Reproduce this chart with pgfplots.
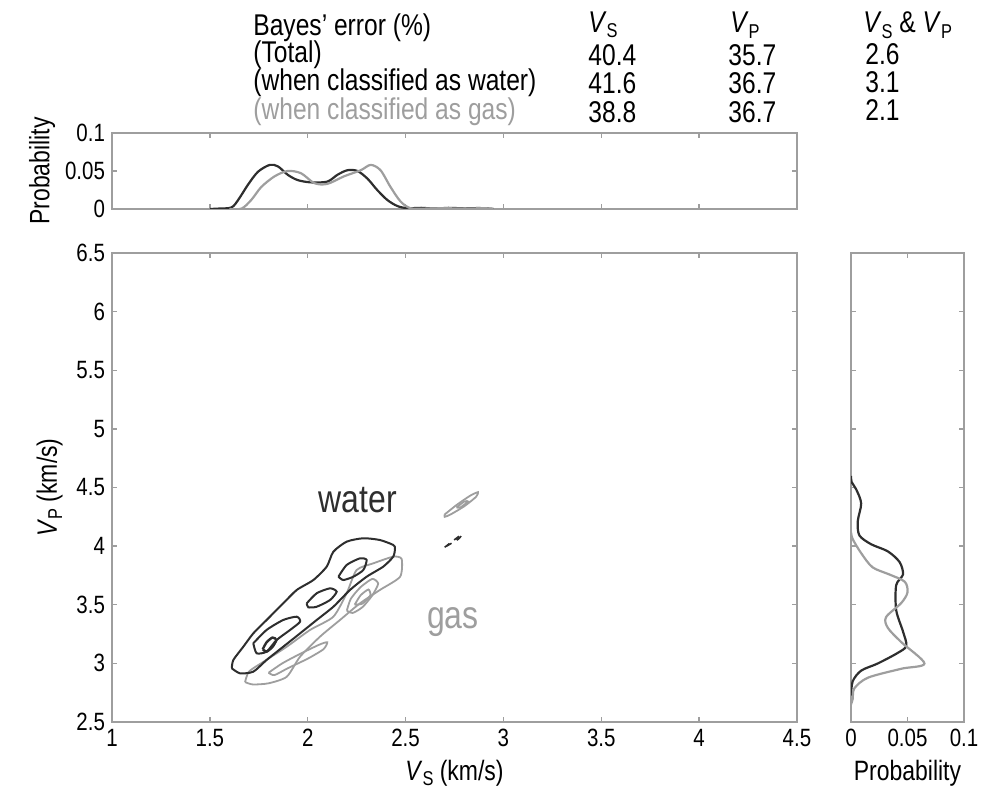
\documentclass[border=0pt]{standalone}
\usepackage{pgfplots}
\pgfplotsset{compat=1.18}
\usepackage{fontspec}
\setmainfont{Liberation Sans}[FakeStretch=0.82]
\definecolor{wat}{gray}{0.18}
\definecolor{gas}{gray}{0.62}
\definecolor{axc}{gray}{0.62}
\pgfplotsset{myax/.style={scale only axis,
  axis line style={axc, line width=0.9pt},
  major tick style={axc, line width=0.7pt}, major tick length=2.5pt, tick align=inside,
  tick label style={font=\fontsize{12.5}{13}\selectfont},
  label style={font=\fontsize{14}{15}\selectfont},
  /pgf/number format/assume math mode=true, scaled ticks=false}}
\newcommand{\sub}[1]{\raisebox{-0.35ex}{\fontsize{10}{10}\selectfont #1}}
\begin{document}
\begin{tikzpicture}
\useasboundingbox (0pt,0pt) rectangle (498.5pt,403pt);
% header table
\begin{scope}[x=0.5pt,y=0.5pt,every node/.style={anchor=west, inner sep=0pt, font=\fontsize{15}{16}\selectfont}]
\node at (253,778) {Bayes' error (\%)};
\node at (253,751) {(Total)};
\node at (253,723) {(when classified as water)};
\node[text=gas] at (253,694) {(when classified as gas)};
\node at (588,781) {\textit{V}\sub{S}};
\node at (588,751) {40.4};
\node at (588,723) {41.6};
\node at (588,694) {38.8};
\node at (730,781) {\textit{V}\sub{P}};
\node at (728,751) {35.7};
\node at (728,723) {36.7};
\node at (728,694) {36.7};
\node at (863,781) {\textit{V}\sub{S} \& \textit{V}\sub{P}};
\node at (865,752) {2.6};
\node at (865,724) {3.1};
\node at (865,696) {2.1};
\end{scope}
% top marginal
\begin{axis}[myax, at={(56pt,298.5pt)}, anchor=south west, width=342.5pt, height=38pt,
  xmin=1, xmax=4.5, ymin=0, ymax=0.1,
  xtick={1,1.5,2,2.5,3,3.5,4,4.5}, xticklabels={},
  ytick={0,0.05,0.1}, yticklabels={0,0.05,0.1},
  ylabel={Probability}, ylabel style={yshift=-2pt}]
\addplot[wat, line width=1.1pt, smooth, tension=0.5] coordinates {
(1.50,0) (1.543,0.0005) (1.61,0.002) (1.645,0.012) (1.695,0.032) (1.746,0.049) (1.806,0.058)
(1.848,0.056) (1.898,0.045) (1.949,0.038) (2.017,0.035) (2.10,0.036) (2.152,0.045)
(2.203,0.051) (2.254,0.050) (2.305,0.040) (2.355,0.025) (2.406,0.012) (2.457,0.004)
(2.508,0.001) (2.58,0.0015) (2.65,0.0005) (2.72,0.0015) (2.80,0.0008) (2.88,0.0012) (2.95,0)};
\addplot[gas, line width=1.1pt, smooth, tension=0.5] coordinates {
(1.60,0) (1.662,0.0005) (1.712,0.012) (1.763,0.029) (1.831,0.043) (1.898,0.050)
(1.966,0.047) (2.034,0.034) (2.10,0.033) (2.186,0.043) (2.271,0.051) (2.322,0.058)
(2.372,0.051) (2.423,0.029) (2.474,0.010) (2.525,0.001) (2.60,0.0005) (2.70,0.001)
(2.80,0.0005) (2.90,0.001) (2.95,0)};
\end{axis}
% main axis
\begin{axis}[myax, at={(56pt,42pt)}, anchor=south west, width=342.5pt, height=234.5pt,
  xmin=1, xmax=4.5, ymin=2.5, ymax=6.5,
  xtick={1,1.5,2,2.5,3,3.5,4,4.5}, ytick={2.5,3,3.5,4,4.5,5,5.5,6,6.5},
  xlabel={\textit{V}\sub{S} (km/s)},
  ylabel={\textit{V}\sub{P} (km/s)}]
% gas contours
\addplot[gas, line width=0.9pt, smooth, tension=0.4] coordinates {
(1.68,2.84) (1.70,2.93) (1.78,3.02) (1.893,3.142) (2.012,3.285) (2.131,3.398) (2.199,3.598)
(2.250,3.796) (2.335,3.853) (2.437,3.910) (2.48,3.89) (2.472,3.739) (2.369,3.626)
(2.267,3.512) (2.165,3.370) (2.063,3.228) (1.961,3.057) (1.893,2.886) (1.80,2.83)
(1.72,2.82) (1.68,2.84)};
\addplot[gas, line width=0.9pt, smooth, tension=0.4] coordinates {
(2.20,3.45) (2.22,3.55) (2.27,3.65) (2.33,3.72) (2.36,3.68) (2.33,3.58) (2.28,3.48) (2.23,3.43) (2.20,3.45)};
\addplot[gas, line width=0.9pt, smooth, tension=0.4] coordinates {
(2.24,3.50) (2.27,3.58) (2.31,3.63) (2.32,3.58) (2.28,3.51) (2.24,3.50)};
\addplot[gas, line width=0.9pt, smooth, tension=0.4] coordinates {
(1.80,2.92) (1.87,3.00) (1.96,3.08) (2.06,3.16) (2.10,3.18) (2.08,3.12) (2.00,3.04) (1.90,2.96) (1.83,2.90) (1.80,2.92)};
\addplot[gas, line width=0.9pt, smooth, tension=0.4] coordinates {
(2.70,4.27) (2.76,4.35) (2.83,4.43) (2.87,4.46) (2.86,4.42) (2.80,4.34) (2.73,4.27) (2.70,4.25) (2.70,4.27)};
\addplot[gas, line width=0.9pt, smooth, tension=0.4] coordinates {
(2.76,4.33) (2.80,4.38) (2.82,4.38) (2.78,4.33) (2.76,4.33)};
% water contours
\addplot[wat, line width=1pt, smooth, tension=0.4] coordinates {
(1.612,2.958) (1.620,3.029) (1.671,3.142) (1.722,3.256) (1.790,3.370) (1.875,3.512)
(1.944,3.626) (2.029,3.711) (2.097,3.825) (2.131,3.952) (2.199,4.038) (2.284,4.067)
(2.369,4.052) (2.437,4.01) (2.446,3.981) (2.437,3.910) (2.386,3.825) (2.301,3.739)
(2.216,3.626) (2.131,3.483) (2.046,3.370) (1.961,3.256) (1.875,3.142) (1.790,3.029)
(1.722,2.929) (1.654,2.915) (1.612,2.958)};
\addplot[wat, line width=1pt, smooth, tension=0.4] coordinates {
(2.157,3.739) (2.199,3.839) (2.267,3.896) (2.301,3.882) (2.284,3.796) (2.233,3.739) (2.182,3.711) (2.157,3.739)};
\addplot[wat, line width=1pt, smooth, tension=0.4] coordinates {
(1.995,3.512) (2.046,3.598) (2.114,3.640) (2.148,3.611) (2.114,3.540) (2.046,3.483) (2.003,3.478) (1.995,3.512)};
\addplot[wat, line width=1pt, smooth, tension=0.4] coordinates {
(1.722,3.171) (1.790,3.285) (1.875,3.370) (1.944,3.398) (1.961,3.355) (1.910,3.285)
(1.841,3.199) (1.790,3.100) (1.739,3.086) (1.722,3.171)};
\addplot[wat, line width=1.2pt, smooth, tension=0.4] coordinates {
(1.77,3.12) (1.79,3.18) (1.82,3.22) (1.84,3.20) (1.82,3.14) (1.79,3.10) (1.77,3.12)};
\addplot[wat, line width=0.8pt, dashed, smooth, tension=0.4] coordinates {
(2.70,3.99) (2.73,4.03) (2.77,4.08) (2.79,4.10) (2.77,4.06) (2.72,4.01) (2.70,3.99)};
\node[text=wat, font=\fontsize{19.5}{20}\selectfont] at (axis cs:2.257,4.393) {water};
\node[text=gas, font=\fontsize{19.5}{20}\selectfont] at (axis cs:2.742,3.353) {gas};
\end{axis}
% right marginal
\begin{axis}[myax, at={(425.5pt,42pt)}, anchor=south west, width=56.5pt, height=234.5pt,
  xmin=0, xmax=0.1, ymin=2.5, ymax=6.5,
  xtick={0,0.05,0.1}, xticklabels={0,0.05,0.1},
  ytick={2.5,3,3.5,4,4.5,5,5.5,6,6.5}, yticklabels={},
  xlabel={Probability}]
\addplot[wat, line width=1.1pt, smooth, tension=0.5] coordinates {
(0,4.60) (0.0005,4.547) (0.0045,4.486) (0.009,4.365) (0.006,4.213) (0.0074,4.092) (0.0178,4.016)
(0.0326,3.955) (0.043,3.864) (0.046,3.758) (0.040,3.667) (0.040,3.454) (0.046,3.272)
(0.049,3.15) (0.0415,3.09) (0.0237,2.999) (0.009,2.938) (0.0015,2.847) (0,2.726)};
\addplot[gas, line width=1.1pt, smooth, tension=0.5] coordinates {
(0,4.12) (0.0015,4.06) (0.009,3.94) (0.019,3.82) (0.034,3.758) (0.0475,3.697) (0.050,3.606)
(0.0445,3.515) (0.031,3.394) (0.0326,3.303) (0.0445,3.181) (0.065,2.999) (0.0445,2.954)
(0.015,2.878) (0.003,2.787) (0.0015,2.696) (0,2.65)};
\end{axis}
\end{tikzpicture}
\end{document}
